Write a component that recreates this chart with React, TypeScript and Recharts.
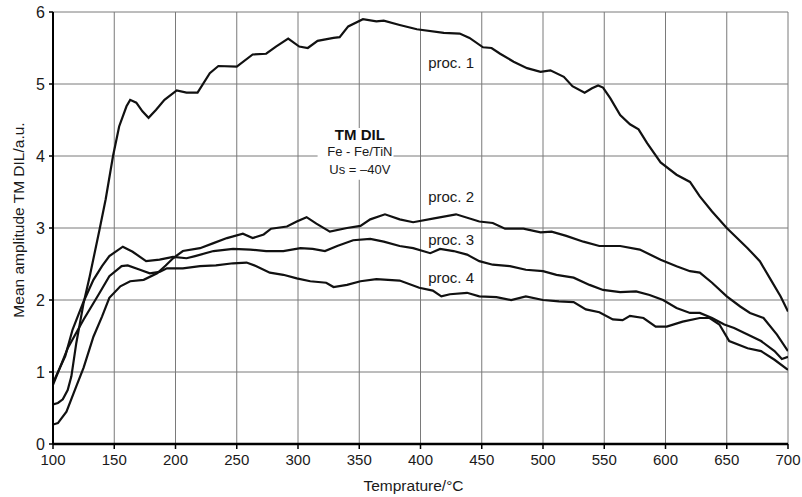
import React from "react";
import {
  LineChart,
  Line,
  XAxis,
  YAxis,
  CartesianGrid,
  ReferenceDot,
  ReferenceArea,
} from "recharts";

// temperature (°C) / mean amplitude (a.u.)
const proc1Temp = [100, 104, 108, 112, 115, 119, 125, 130, 138, 143, 149, 154, 160, 163, 168, 173, 178, 184, 191, 201, 209, 218, 228, 235, 250, 263, 274, 282, 292, 301, 308, 316, 329, 334, 341, 353, 364, 370, 383, 397, 419, 432, 440, 451, 458, 465, 476, 487, 498, 506, 517, 524, 534, 540, 545, 549, 555, 563, 571, 578, 585, 596, 609, 620, 628, 638, 650, 667, 677, 686, 694, 700];
const proc1Amp = [0.55, 0.57, 0.62, 0.75, 0.94, 1.4, 1.96, 2.33, 2.98, 3.4, 4.0, 4.41, 4.69, 4.78, 4.74, 4.62, 4.53, 4.64, 4.78, 4.91, 4.88, 4.88, 5.15, 5.25, 5.24, 5.41, 5.42, 5.52, 5.63, 5.52, 5.5, 5.6, 5.64, 5.65, 5.8, 5.9, 5.87, 5.88, 5.82, 5.76, 5.71, 5.7, 5.64, 5.51, 5.5, 5.42, 5.31, 5.22, 5.17, 5.19, 5.1, 4.97, 4.88, 4.94, 4.98, 4.95, 4.8, 4.57, 4.44, 4.37, 4.18, 3.91, 3.74, 3.64, 3.44, 3.23, 3.0, 2.72, 2.54, 2.28, 2.05, 1.84];

const proc2Temp = [100, 104, 111, 119, 125, 133, 140, 146, 155, 163, 174, 185, 192, 198, 206, 220, 231, 242, 255, 263, 272, 278, 291, 299, 307, 315, 326, 340, 351, 359, 371, 383, 394, 410, 429, 448, 459, 469, 484, 498, 507, 519, 533, 546, 563, 579, 596, 609, 620, 628, 638, 650, 661, 669, 680, 691, 700];
const proc2Amp = [0.27, 0.29, 0.45, 0.8, 1.06, 1.49, 1.77, 2.03, 2.19, 2.26, 2.28, 2.37, 2.48, 2.58, 2.68, 2.72, 2.79, 2.86, 2.92, 2.86, 2.91, 2.99, 3.02, 3.09, 3.15, 3.06, 2.95, 3.0, 3.03, 3.12, 3.19, 3.12, 3.08, 3.13, 3.19, 3.09, 3.07, 2.99, 2.99, 2.94, 2.95, 2.89, 2.81, 2.75, 2.75, 2.7, 2.56, 2.47, 2.4, 2.38, 2.24, 2.05, 1.91, 1.82, 1.75, 1.52, 1.29];

const proc3Temp = [100, 110, 116, 125, 133, 140, 146, 157, 165, 176, 187, 198, 209, 216, 231, 247, 261, 274, 288, 302, 312, 322, 332, 345, 359, 370, 383, 394, 408, 416, 427, 438, 448, 459, 473, 486, 500, 511, 525, 538, 549, 563, 576, 587, 598, 609, 620, 628, 638, 648, 656, 667, 678, 689, 695, 700];
const proc3Amp = [0.85, 1.22, 1.59, 1.98, 2.28, 2.47, 2.61, 2.74, 2.67, 2.54, 2.56, 2.6, 2.58, 2.61, 2.68, 2.71, 2.7, 2.68, 2.68, 2.72, 2.71, 2.68, 2.75, 2.83, 2.85, 2.81, 2.75, 2.72, 2.65, 2.71, 2.68, 2.63, 2.54, 2.49, 2.47, 2.42, 2.4, 2.35, 2.31, 2.21, 2.14, 2.11, 2.12, 2.07, 2.0, 1.89, 1.82, 1.82, 1.75, 1.66, 1.61, 1.52, 1.43, 1.29, 1.18, 1.21];

const proc4Temp = [100, 112, 125, 137, 146, 156, 161, 171, 179, 187, 193, 206, 220, 233, 247, 258, 266, 277, 288, 299, 310, 323, 329, 340, 351, 364, 383, 399, 410, 417, 424, 438, 448, 462, 474, 486, 500, 513, 525, 535, 546, 557, 565, 571, 582, 592, 601, 614, 628, 636, 644, 652, 667, 678, 689, 700];
const proc4Amp = [0.82, 1.33, 1.73, 2.07, 2.33, 2.47, 2.48, 2.42, 2.37, 2.39, 2.44, 2.44, 2.47, 2.48, 2.51, 2.52, 2.47, 2.38, 2.35, 2.3, 2.26, 2.24, 2.18, 2.21, 2.26, 2.29, 2.27, 2.17, 2.13, 2.05, 2.08, 2.1, 2.05, 2.04, 2.0, 2.05, 2.0, 1.98, 1.97, 1.87, 1.83, 1.73, 1.72, 1.78, 1.75, 1.63, 1.63, 1.7, 1.75, 1.75, 1.66, 1.43, 1.33, 1.29, 1.17, 1.03];

const xTicks = [100, 150, 200, 250, 300, 350, 400, 450, 500, 550, 600, 650, 700];
const yTicks = [0, 1, 2, 3, 4, 5, 6];

const seriesNames = ["proc. 1", "proc. 2", "proc. 3", "proc. 4"];
// where each series name sits on the plot (temp, amplitude)
const nameTemp = [425, 425, 425, 425];
const nameAmp = [5.29, 3.44, 2.84, 2.31];

const zip = (t: number[], a: number[]) => t.map((x, i) => ({ t: x, v: a[i] }));

const series = [
  zip(proc1Temp, proc1Amp),
  zip(proc2Temp, proc2Amp),
  zip(proc3Temp, proc3Amp),
  zip(proc4Temp, proc4Amp),
];

const FONT = "'Liberation Sans', Arial, sans-serif";

export default function App() {
  return (
    <div style={{ position: "absolute", left: 0, top: 0, background: "#fff" }}>
      <LineChart
        width={802}
        height={497}
        margin={{ top: 12, right: 14, left: 0, bottom: 8 }}
        style={{ fontFamily: FONT }}
      >
        <CartesianGrid stroke="#7a7a7a" strokeWidth={1} />
        <XAxis
          type="number"
          dataKey="t"
          domain={[100, 700]}
          ticks={xTicks}
          allowDataOverflow
          height={45}
          stroke="#000"
          axisLine={{ stroke: "#000", strokeWidth: 2.5 }}
          tickLine={{ stroke: "#000", strokeWidth: 1.5 }}
          tickSize={5}
          tickMargin={5}
          tick={{ fill: "#1a1a1a", fontSize: 15, fontFamily: FONT }}
          label={{
            value: "Temprature/°C",
            position: "insideBottom",
            offset: -2,
            dx: -7,
            fill: "#1a1a1a",
            fontSize: 15.5,
            fontFamily: FONT,
          }}
        />
        <YAxis
          type="number"
          domain={[0, 6]}
          ticks={yTicks}
          allowDataOverflow
          width={53}
          axisLine={{ stroke: "#000", strokeWidth: 2 }}
          tickLine={{ stroke: "#000", strokeWidth: 1.5 }}
          tickSize={4}
          tickMargin={4}
          tick={{ fill: "#1a1a1a", fontSize: 16, fontFamily: FONT }}
          label={{
            content: ({ viewBox }: any) => {
              const cx = viewBox.x + 18;
              const cy = viewBox.y + viewBox.height / 2 - 8;
              return (
                <text
                  x={cx}
                  y={cy}
                  transform={`rotate(-90, ${cx}, ${cy})`}
                  textAnchor="middle"
                  dominantBaseline="central"
                  fontSize={15.5}
                  fontFamily={FONT}
                  fill="#1a1a1a"
                >
                  Mean amplitude TM DIL/a.u.
                </text>
              );
            },
          }}
        />
        {/* white box behind the sample caption */}
        <ReferenceArea x1={316} x2={378} y1={3.67} y2={4.39} fill="#fff" fillOpacity={1} stroke="none" />
        {series.map((d, i) => (
          <Line
            key={seriesNames[i]}
            data={d}
            dataKey="v"
            type="linear"
            stroke="#111"
            strokeWidth={2.2}
            dot={false}
            isAnimationActive={false}
          />
        ))}
        {seriesNames.map((n, i) => (
          <ReferenceDot
            key={n}
            x={nameTemp[i]}
            y={nameAmp[i]}
            r={0}
            fill="none"
            stroke="none"
            label={{ value: n, position: "center", fontSize: 15, fill: "#1a1a1a", fontFamily: FONT }}
          />
        ))}
        <ReferenceDot
          x={350.5}
          y={4.3}
          r={0}
          fill="none"
          stroke="none"
          label={{ value: "TM DIL", position: "center", fontSize: 15, fontWeight: "bold", fill: "#111", fontFamily: FONT }}
        />
        <ReferenceDot
          x={350.5}
          y={4.06}
          r={0}
          fill="none"
          stroke="none"
          label={{ value: "Fe - Fe/TiN", position: "center", fontSize: 13, fill: "#1a1a1a", fontFamily: FONT }}
        />
        <ReferenceDot
          x={350.5}
          y={3.82}
          r={0}
          fill="none"
          stroke="none"
          label={{ value: "Us = –40V", position: "center", fontSize: 13, fill: "#1a1a1a", fontFamily: FONT }}
        />
      </LineChart>
    </div>
  );
}
